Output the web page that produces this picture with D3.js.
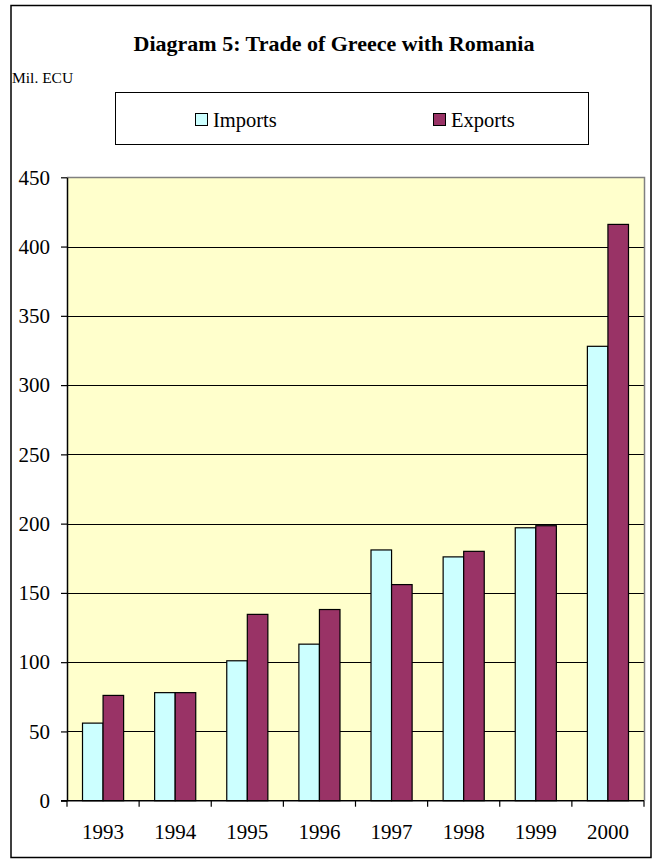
<!DOCTYPE html>
<html>
<head>
<meta charset="utf-8">
<script src="https://cdn.jsdelivr.net/npm/d3@7/dist/d3.min.js"></script>
<style>
  html, body { margin: 0; padding: 0; background: #ffffff; }
  svg { display: block; }
  text { font-family: "Liberation Serif", "Times New Roman", serif; fill: #000; }
</style>
</head>
<body>
<svg id="chart" width="657" height="859"></svg>
<script>
// Trade of Greece with Romania, million ECU
const years = ["1993", "1994", "1995", "1996", "1997", "1998", "1999", "2000"];
const imports = [56, 78, 101, 113, 181, 176, 197, 328];
const exports = [76, 78, 134.5, 138, 156, 180, 198.5, 416];
const seriesNames = ["Imports", "Exports"];
const seriesColors = ["#CCFFFF", "#993366"];
const yTicks = [0, 50, 100, 150, 200, 250, 300, 350, 400, 450];

const svg = d3.select("#chart");

// outer frame
svg.append("rect")
  .attr("x", 11).attr("y", 5.5)
  .attr("width", 640).attr("height", 852)
  .attr("fill", "#fff").attr("stroke", "#000").attr("stroke-width", 1.5);

// title
svg.append("text")
  .attr("x", 334).attr("y", 51)
  .attr("text-anchor", "middle")
  .attr("font-size", 22).attr("font-weight", "bold")
  .text("Diagram 5: Trade of Greece with Romania");

// unit label
svg.append("text")
  .attr("x", 12).attr("y", 83)
  .attr("font-size", 15.5)
  .text("Mil. ECU");

// legend
const legend = svg.append("g");
legend.append("rect")
  .attr("x", 115.5).attr("y", 92.5)
  .attr("width", 473).attr("height", 52)
  .attr("fill", "#fff").attr("stroke", "#000").attr("stroke-width", 1);
const legendX = [195, 433];
seriesNames.forEach((name, i) => {
  const g = legend.append("g").attr("transform", `translate(${legendX[i]},0)`);
  g.append("rect")
    .attr("x", 0.5).attr("y", 113.5)
    .attr("width", 12).attr("height", 12)
    .attr("fill", seriesColors[i]).attr("stroke", "#000").attr("stroke-width", 1);
  g.append("text")
    .attr("x", 18).attr("y", 126.5)
    .attr("font-size", 20.5)
    .text(name);
});

// plot area
const plot = { left: 67, right: 644, top: 177.3, bottom: 800.7 };

const x = d3.scaleBand()
  .domain(years)
  .range([plot.left, plot.right])
  .paddingInner(0.43)
  .paddingOuter(0.215);
const xSeries = d3.scaleBand()
  .domain(seriesNames)
  .range([0, x.bandwidth()]);
const y = d3.scaleLinear()
  .domain([0, 450])
  .range([plot.bottom, plot.top]);

svg.append("rect")
  .attr("x", plot.left).attr("y", plot.top)
  .attr("width", plot.right - plot.left).attr("height", plot.bottom - plot.top)
  .attr("fill", "#FFFFCC");

// gridlines
svg.append("g")
  .selectAll("line")
  .data(yTicks.filter(t => t > 0 && t < 450))
  .join("line")
  .attr("x1", plot.left).attr("x2", plot.right)
  .attr("y1", d => Math.round(y(d)) + 0.5).attr("y2", d => Math.round(y(d)) + 0.5)
  .attr("stroke", "#000").attr("stroke-width", 1);

// gray border of plot area (top and right)
svg.append("path")
  .attr("d", `M${plot.left},${Math.round(plot.top) + 0.5}H${plot.right + 0.5}V${plot.bottom}`)
  .attr("fill", "none").attr("stroke", "#808080").attr("stroke-width", 1.5);

// bars
const rows = years.map((yr, i) => ({ year: yr, values: [imports[i], exports[i]] }));
const groups = svg.append("g")
  .selectAll("g")
  .data(rows)
  .join("g")
  .attr("transform", d => `translate(${x(d.year)},0)`);
groups.selectAll("rect")
  .data(d => d.values.map((v, i) => ({ name: seriesNames[i], value: v, color: seriesColors[i] })))
  .join("rect")
  .attr("x", d => xSeries(d.name))
  .attr("y", d => y(d.value))
  .attr("width", xSeries.bandwidth())
  .attr("height", d => y(0) - y(d.value))
  .attr("fill", d => d.color)
  .attr("stroke", "#000").attr("stroke-width", 1.2);

// y axis
const yAxis = svg.append("g")
  .attr("transform", `translate(${plot.left},0)`)
  .call(d3.axisLeft(y).tickValues(yTicks).tickSize(6).tickPadding(11).tickSizeOuter(0));
yAxis.select(".domain").attr("stroke", "#000").attr("stroke-width", 1.5);
yAxis.selectAll(".tick line").attr("stroke", "#000").attr("stroke-width", 1.2);
yAxis.selectAll(".tick text")
  .attr("font-family", "'Liberation Serif', 'Times New Roman', serif")
  .attr("font-size", 21).attr("fill", "#000");

// x axis: ticks between categories
const xAxis = svg.append("g")
  .attr("transform", `translate(0,${plot.bottom})`);
xAxis.append("line")
  .attr("x1", plot.left - 6).attr("x2", plot.right)
  .attr("stroke", "#000").attr("stroke-width", 1.5);
const boundaries = years.map(yr => x(yr) - x.step() * x.paddingInner() / 2)
  .concat([plot.right]);
xAxis.selectAll(".sep")
  .data(boundaries)
  .join("line")
  .attr("class", "sep")
  .attr("x1", d => d).attr("x2", d => d)
  .attr("y1", 0).attr("y2", 6)
  .attr("stroke", "#000").attr("stroke-width", 1.2);
xAxis.selectAll(".lbl")
  .data(years)
  .join("text")
  .attr("class", "lbl")
  .attr("x", d => x(d) + x.bandwidth() / 2)
  .attr("y", 38)
  .attr("text-anchor", "middle")
  .attr("font-size", 21)
  .text(d => d);
</script>
</body>
</html>
